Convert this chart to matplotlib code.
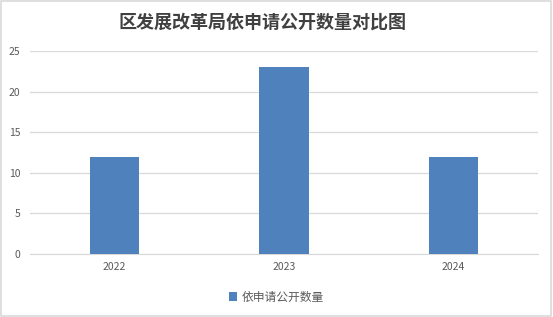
import matplotlib
matplotlib.use("Agg")
import matplotlib.pyplot as plt
from matplotlib.patches import Rectangle

plt.rcParams['font.family'] = ['Noto Sans CJK SC', 'DejaVu Sans']

categories = ["2022", "2023", "2024"]
values = [12, 23, 12]
series_name = "依申请公开数量"
title = "区发展改革局依申请公开数量对比图"
yticks = [0, 5, 10, 15, 20, 25]

fig = plt.figure(figsize=(5.53, 3.17), dpi=100)
ax = fig.add_axes([30/553, 1-254/317, 508/553, (254-51)/317])

x = list(range(len(categories)))
ax.bar(x, values, width=0.29, color="#4F81BD", label=series_name, zorder=3)
ax.set_xlim(-0.5, 2.5)
ax.set_ylim(0, 25)
ax.set_yticks(yticks)
ax.set_xticks(x)
ax.set_xticklabels(categories)
ax.grid(axis='y', color="#D9D9D9", linewidth=0.9, zorder=0)
for s in ['top', 'right', 'left']:
    ax.spines[s].set_visible(False)
ax.spines['bottom'].set_color("#D9D9D9")
ax.tick_params(axis='both', length=0, labelsize=7.5, labelcolor="#595959")
ax.tick_params(axis='y', pad=7)
ax.tick_params(axis='x', pad=6)

fig.text(262/553, 1-22/317, title, ha='center', va='center', fontsize=13,
         fontweight='bold', color="#404040")

fig.legend(loc='center', bbox_to_anchor=(0.5, 1-297/317), frameon=False,
           fontsize=8.5, labelcolor="#595959", handlelength=0.7, handleheight=0.7,
           handletextpad=0.4)

fig.patches.append(Rectangle((0.002, 0.003), 0.995, 0.993, transform=fig.transFigure,
                             fill=False, edgecolor="#D9D9D9", linewidth=1.2))

fig.savefig("out.png", dpi=100)
